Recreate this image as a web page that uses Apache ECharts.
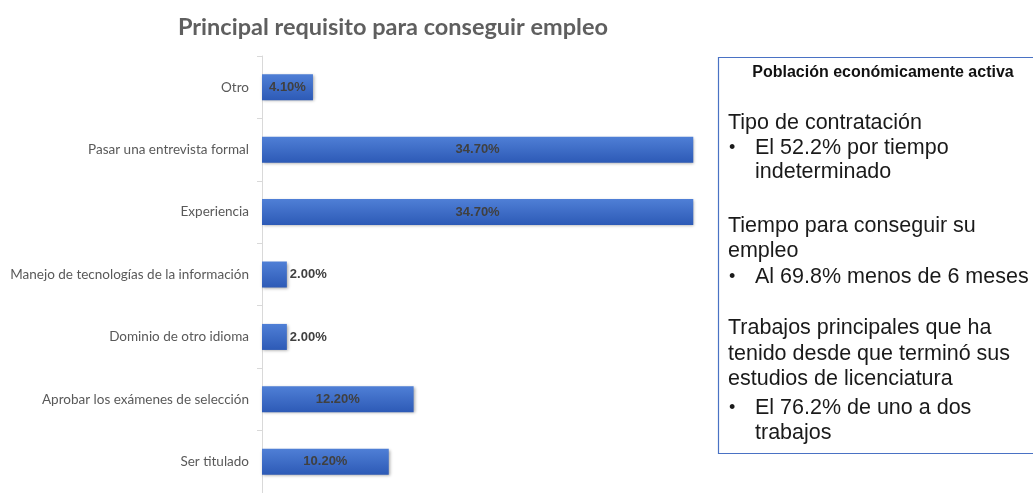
<!DOCTYPE html>
<html>
<head>
<meta charset="utf-8">
<script src="https://cdn.jsdelivr.net/npm/echarts@6/dist/echarts.min.js"></script>
<style>
  html, body { margin: 0; padding: 0; background: #fff; }
  #chart { width: 1033px; height: 493px; }
</style>
</head>
<body>
<div id="chart"></div>
<script>
// categorias de arriba hacia abajo
const categories = [
  'Otro',
  'Pasar una entrevista formal',
  'Experiencia',
  'Manejo de tecnologías de la información',
  'Dominio de otro idioma',
  'Aprobar los exámenes de selección',
  'Ser titulado'
];
const values = [4.1, 34.7, 34.7, 2.0, 2.0, 12.2, 10.2];

// textos del recuadro
const boxTitle = 'Población económicamente activa';
const boxLines = [
  { t: 'Tipo de contratación', bullet: false, y: 123 },
  { t: 'El 52.2% por tiempo', bullet: true, y: 148 },
  { t: 'indeterminado', bullet: false, indent: true, y: 172 },
  { t: 'Tiempo para conseguir su', bullet: false, y: 226 },
  { t: 'empleo', bullet: false, y: 251 },
  { t: 'Al 69.8% menos de 6 meses', bullet: true, y: 277 },
  { t: 'Trabajos principales que ha', bullet: false, y: 328 },
  { t: 'tenido desde que terminó sus', bullet: false, y: 354 },
  { t: 'estudios de licenciatura', bullet: false, y: 379 },
  { t: 'El 76.2% de uno a dos', bullet: true, y: 408 },
  { t: 'trabajos', bullet: false, indent: true, y: 433 }
];

let myChart = echarts.init(document.getElementById('chart'));

// barras con degradado azul
const barColor = new echarts.graphic.LinearGradient(0, 0, 0, 1, [
  { offset: 0, color: '#4f7fd6' },
  { offset: 1, color: '#2d5ab6' }
]);

// etiqueta: dentro si cabe, fuera si la barra es corta
const seriesData = values.map(v => ({
  value: v,
  label: v < 3
    ? { position: 'right', distance: 3 }
    : { position: 'inside' }
}));

// texto del recuadro
const textEls = [];
boxLines.forEach(l => {
  if (l.bullet) {
    textEls.push({
      type: 'text',
      style: { x: 729, y: l.y, text: '•', font: '18px "Liberation Sans", Arial', fill: '#1a1a1a', verticalAlign: 'middle' }
    });
  }
  textEls.push({
    type: 'text',
    style: {
      x: (l.bullet || l.indent) ? 755 : 728,
      y: l.y,
      text: l.t,
      font: '21.5px "Liberation Sans", Arial',
      fill: '#1a1a1a',
      verticalAlign: 'middle'
    }
  });
});

myChart.setOption({
  animation: false,
  title: {
    text: 'Principal requisito para conseguir empleo',
    left: 388,
    textAlign: 'center',
    top: 10,
    textStyle: {
      color: '#5f5f5f',
      fontSize: 23.5,
      fontWeight: 'bold',
      fontFamily: 'Lato'
    }
  },
  grid: {
    left: 262,
    top: 56,
    width: 435,
    height: 442
  },
  xAxis: {
    type: 'value',
    min: 0,
    max: 35,
    show: false
  },
  yAxis: {
    type: 'category',
    inverse: true,
    data: categories,
    axisLine: { lineStyle: { color: '#d9d9d9' } },
    axisTick: { show: true, length: 5, lineStyle: { color: '#d9d9d9' } },
    axisLabel: {
      color: '#595959',
      fontSize: 13.5,
      fontFamily: 'Lato',
      margin: 13
    }
  },
  series: [{
    type: 'bar',
    data: seriesData,
    barWidth: 26,
    itemStyle: {
      color: barColor,
      shadowColor: 'rgba(0,0,0,0.35)',
      shadowBlur: 3,
      shadowOffsetX: 1,
      shadowOffsetY: 1
    },
    label: {
      show: true,
      formatter: p => p.value.toFixed(2) + '%',
      color: '#404040',
      fontSize: 13,
      fontWeight: 'bold',
      fontFamily: '"Liberation Sans", Arial'
    }
  }],
  graphic: [
    {
      type: 'rect',
      shape: { x: 718.5, y: 57.5, width: 330, height: 396 },
      style: { fill: 'none', stroke: '#4a72c4', lineWidth: 1.2 }
    },
    {
      type: 'text',
      style: {
        x: 883, y: 73,
        text: boxTitle,
        font: 'bold 16px "Liberation Sans", Arial',
        fill: '#111',
        align: 'center',
        verticalAlign: 'middle'
      }
    }
  ].concat(textEls)
});
</script>
</body>
</html>
